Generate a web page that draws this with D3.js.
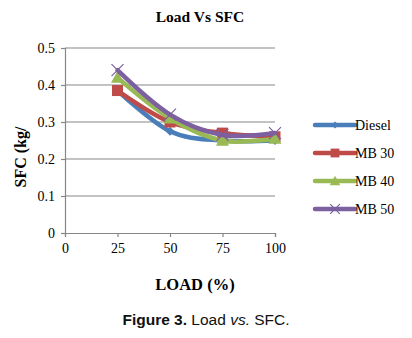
<!DOCTYPE html>
<html>
<head>
<meta charset="utf-8">
<script src="https://cdn.jsdelivr.net/npm/d3@7"></script>
<style>
  body { margin: 0; background: #fff; }
  svg { display: block; }
</style>
</head>
<body>
<svg id="chart"></svg>
<script>
"use strict";

// load steps on the x axis (%)
var loads = [25, 50, 75, 100];

// SFC values
var diesel = [0.385, 0.275, 0.25, 0.25];
var mb30 = [0.385, 0.30, 0.27, 0.26];
var mb40 = [0.42, 0.31, 0.25, 0.255];
var mb50 = [0.44, 0.32, 0.265, 0.27];

var seriesNames = ["Diesel", "MB 30", "MB 40", "MB 50"];
var seriesValues = [diesel, mb30, mb40, mb50];
var colors = ["#4a7ebb", "#be4b48", "#98b954", "#7d60a0"];
var markers = ["diamond", "square", "triangle", "cross"];

var xTicks = [0, 25, 50, 75, 100];
var yTicks = [0, 0.1, 0.2, 0.3, 0.4, 0.5];

var width = 412, height = 338;

var svg = d3.select("#chart")
    .attr("width", width)
    .attr("height", height);

var x = d3.scaleLinear().domain([0, 100]).range([65, 275]);
var y = d3.scaleLinear().domain([0, 0.5]).range([233, 48]);

var serif = "'Liberation Serif', 'Times New Roman', serif";

// gridlines
svg.append("g")
    .selectAll("line")
    .data(yTicks.slice(1))
    .enter().append("line")
    .attr("x1", x(0))
    .attr("x2", x(100))
    .attr("y1", function (d) { return y(d); })
    .attr("y2", function (d) { return y(d); })
    .attr("stroke", "#878787")
    .attr("stroke-width", 1.2);

// y axis
var yAxis = svg.append("g")
    .attr("transform", "translate(" + x(0) + ",0)")
    .call(d3.axisLeft(y).tickValues(yTicks).tickSize(4).tickPadding(6)
        .tickFormat(function (d) { return d === 0 ? "0" : d3.format(".1f")(d); }));

// x axis
var xAxis = svg.append("g")
    .attr("transform", "translate(0," + y(0) + ")")
    .call(d3.axisBottom(x).tickValues(xTicks).tickSize(4).tickPadding(6));

[yAxis, xAxis].forEach(function (ax) {
    ax.select(".domain").attr("stroke", "#878787").attr("stroke-width", 1.2);
    ax.selectAll(".tick line").attr("stroke", "#878787").attr("stroke-width", 1.2);
    ax.selectAll(".tick text")
        .attr("fill", "#000")
        .style("font-family", serif)
        .style("font-size", "14px");
});

// smoothed lines like the spreadsheet chart
var line = d3.line()
    .x(function (d) { return x(d[0]); })
    .y(function (d) { return y(d[1]); })
    .curve(d3.curveCatmullRom.alpha(0));

function markerPath(type, s) {
    if (type === "diamond") {
        return "M0," + (-s) + "L" + s + ",0L0," + s + "L" + (-s) + ",0Z";
    }
    if (type === "square") {
        return "M" + (-s) + "," + (-s) + "h" + (2 * s) + "v" + (2 * s) + "h" + (-2 * s) + "Z";
    }
    if (type === "triangle") {
        return "M0," + (-s) + "L" + s + "," + (s * 0.8) + "L" + (-s) + "," + (s * 0.8) + "Z";
    }
    return "M" + (-s) + "," + (-s) + "L" + s + "," + s + "M" + s + "," + (-s) + "L" + (-s) + "," + s;
}

var markerSize = { diamond: 4.5, square: 5.5, triangle: 6.5, cross: 6 };

seriesValues.forEach(function (vals, i) {
    var pts = loads.map(function (l, j) { return [l, vals[j]]; });
    var g = svg.append("g");

    g.append("path")
        .attr("d", line(pts))
        .attr("fill", "none")
        .attr("stroke", colors[i])
        .attr("stroke-width", 4.5)
        .attr("stroke-linecap", "round");

    g.selectAll("path.mk")
        .data(pts)
        .enter().append("path")
        .attr("class", "mk")
        .attr("transform", function (d) { return "translate(" + x(d[0]) + "," + y(d[1]) + ")"; })
        .attr("d", markerPath(markers[i], markerSize[markers[i]]))
        .attr("fill", markers[i] === "cross" ? "none" : colors[i])
        .attr("stroke", colors[i])
        .attr("stroke-width", markers[i] === "cross" ? 1.2 : 0);
});

// legend
var legend = svg.append("g")
    .selectAll("g")
    .data(seriesNames)
    .enter().append("g")
    .attr("transform", function (d, i) { return "translate(315," + (125 + i * 28) + ")"; });

legend.append("line")
    .attr("x1", 0).attr("x2", 40)
    .attr("stroke", function (d, i) { return colors[i]; })
    .attr("stroke-width", 4.5)
    .attr("stroke-linecap", "round");

legend.append("path")
    .attr("transform", "translate(20,0)")
    .attr("d", function (d, i) { return markerPath(markers[i], markerSize[markers[i]] * 0.8); })
    .attr("fill", function (d, i) { return markers[i] === "cross" ? "none" : colors[i]; })
    .attr("stroke", function (d, i) { return colors[i]; })
    .attr("stroke-width", function (d, i) { return markers[i] === "cross" ? 1.2 : 0; });

legend.append("text")
    .attr("x", 40)
    .attr("y", 5)
    .style("font-family", serif)
    .style("font-size", "14px")
    .text(function (d) { return d; });

// titles
svg.append("text")
    .attr("x", 200)
    .attr("y", 22)
    .attr("text-anchor", "middle")
    .style("font-family", serif)
    .style("font-weight", "bold")
    .style("font-size", "15.5px")
    .text("Load Vs SFC");

svg.append("text")
    .attr("transform", "translate(26,157) rotate(-90)")
    .attr("text-anchor", "middle")
    .style("font-family", serif)
    .style("font-weight", "bold")
    .style("font-size", "16px")
    .text("SFC (kg/");

svg.append("text")
    .attr("x", 195)
    .attr("y", 290)
    .attr("text-anchor", "middle")
    .style("font-family", serif)
    .style("font-weight", "bold")
    .style("font-size", "16.5px")
    .text("LOAD (%)");

var cap = svg.append("text")
    .attr("x", 206)
    .attr("y", 325)
    .attr("text-anchor", "middle")
    .style("font-family", "'Liberation Sans', Arial, sans-serif")
    .style("font-size", "15.5px")
    .attr("fill", "#111");
cap.append("tspan").style("font-weight", "bold").text("Figure 3.");
cap.append("tspan").text(" Load ");
cap.append("tspan").style("font-style", "italic").text("vs.");
cap.append("tspan").text(" SFC.");
</script>
</body>
</html>
